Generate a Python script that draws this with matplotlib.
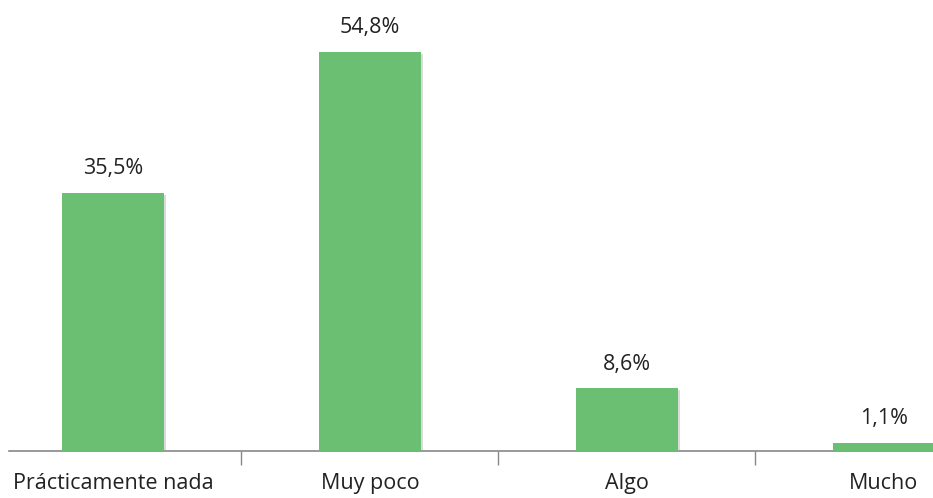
import matplotlib
matplotlib.use("Agg")
import matplotlib.pyplot as plt
import matplotlib.patheffects as pe

categories = ["Prácticamente nada", "Muy poco", "Algo", "Mucho"]
values = [35.5, 54.8, 8.6, 1.1]
labels = ["35,5%", "54,8%", "8,6%", "1,1%"]

plt.rcParams['font.family'] = ['Open Sans', 'DejaVu Sans']

W, H = 933, 498
fig = plt.figure(figsize=(W / 100, H / 100), dpi=100)
# axes: left edge at 9px, category spacing 257px, baseline at y=451
left_px = 9
spacing = 257
x_left = -0.5 + (left_px - (113 - 128.5)) / spacing
width_px = (3.5 - x_left) * spacing
bottom_px = 451
ppu = 399 / 54.8
top_val = 62
ax = fig.add_axes([left_px / W, (H - bottom_px) / H, width_px / W, top_val * ppu / H])
ax.set_xlim(x_left, 3.5)
ax.set_ylim(0, top_val)

x = list(range(len(categories)))
bars = ax.bar(x, values, width=0.40, color="#6abf73", zorder=3)
for b in bars:
    b.set_path_effects([pe.SimplePatchShadow(offset=(1.5, -1.5), shadow_rgbFace="#999999", alpha=0.35), pe.Normal()])

for xi, v, lab in zip(x, values, labels):
    ax.text(xi, v + 1.9, lab, ha="center", va="bottom", fontsize=15.5, color="#222222")

for s in ["top", "right", "left"]:
    ax.spines[s].set_visible(False)
ax.spines["bottom"].set_color("#888888")
ax.spines["bottom"].set_linewidth(1.2)
ax.set_yticks([])
ax.set_xticks(x)
ax.set_xticklabels(categories, fontsize=15.5, color="#222222")
ax.tick_params(axis="x", which="major", length=0, pad=16)
ax.set_xticks([0.5, 1.5, 2.5], minor=True)
ax.tick_params(axis="x", which="minor", length=10, color="#888888", width=1)

fig.savefig("out.png", dpi=100)
